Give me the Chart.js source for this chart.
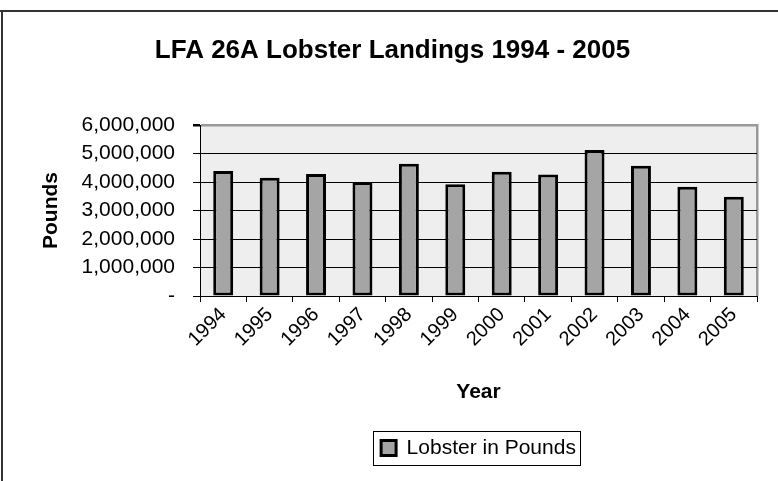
<!DOCTYPE html>
<html lang="en">
<head>
<meta charset="UTF-8">
<title>LFA 26A Lobster Landings 1994 - 2005</title>
<script src="https://cdn.jsdelivr.net/npm/chart.js"></script>
<style>
  body { margin: 0; background: #fff; }
  #containerGrafico { width: 778px; height: 481px; }
</style>
</head>
<body>
<div id="containerGrafico">
  <canvas id="myChart"></canvas>
</div>
<script>
  // landings per year, in pounds
  var years = ['1994', '1995', '1996', '1997', '1998', '1999', '2000', '2001', '2002', '2003', '2004', '2005'];
  var pounds = [4390000, 4150000, 4280000, 4000000, 4640000, 3920000, 4360000, 4260000, 5120000, 4570000, 3830000, 3480000];
  var yTicks = [0, 1000000, 2000000, 3000000, 4000000, 5000000, 6000000];

  Chart.defaults.font.family = "'Liberation Sans', Arial, sans-serif";
  Chart.defaults.color = '#000';

  // grey plot background, outer frame lines and the box round the legend
  const frame = {
    id: 'frame',
    beforeDraw(chart) {
      const c = chart.ctx, a = chart.chartArea;
      c.save();
      c.fillStyle = '#eeeeee';
      c.fillRect(a.left, a.top, a.right - a.left, a.bottom - a.top);
      c.fillStyle = '#999999';
      c.fillRect(a.right - 1, a.top - 1, 2.5, a.bottom - a.top + 1);
      c.restore();
    },
    afterDraw(chart) {
      const c = chart.ctx;
      c.save();
      c.fillStyle = '#333333';
      c.fillRect(0, 10, chart.width, 2);
      c.fillRect(1, 10, 2, chart.height - 10);
      const box = chart.legend.legendHitBoxes[0];
      if (box) {
        c.strokeStyle = '#000';
        c.lineWidth = 1;
        c.strokeRect(Math.round(box.left - 8) + 0.5, Math.round(box.top - 7) + 0.5, Math.round(box.width + 12), Math.round(box.height + 13));
      }
      c.restore();
    }
  };

  const ctx = document.getElementById('myChart');
  let grafico = new Chart(ctx, {
    type: 'bar',
    data: {
      labels: years,
      datasets: [{
        label: 'Lobster in Pounds',
        data: pounds,
        backgroundColor: '#a5a5a5',
        borderColor: '#000',
        borderWidth: 3,
        borderSkipped: false,
        barPercentage: 0.43,
        categoryPercentage: 1
      }]
    },
    options: {
      responsive: true,
      maintainAspectRatio: false,
      animation: false,
      layout: { padding: { top: 12, left: 28, right: 21, bottom: 12.5 } },
      plugins: {
        title: {
          display: true,
          text: 'LFA 26A Lobster Landings 1994 - 2005',
          color: '#000',
          font: { size: 26, weight: 'bold' },
          padding: { top: 23.4, bottom: 58.4 }
        },
        legend: {
          position: 'bottom',
          fullSize: false,
          labels: { boxWidth: 15, boxHeight: 15, padding: 10, color: '#000', font: { size: 21 } }
        },
        tooltip: { enabled: false }
      },
      scales: {
        x: {
          ticks: { minRotation: 45, maxRotation: 45, padding: 1, font: { size: 20 } },
          grid: { drawOnChartArea: false, tickLength: 6, color: '#000', offset: true },
          border: { color: '#000', width: 1 },
          title: { display: true, text: 'Year', font: { size: 21, weight: 'bold' }, padding: { top: 0, bottom: 23 } },
          afterFit: function (s) { s.height = 131.5; }
        },
        y: {
          min: 0,
          max: 6000000,
          afterBuildTicks: function (s) { s.ticks = yTicks.map(v => ({ value: v })); },
          ticks: {
            padding: 18,
            font: { size: 21 },
            callback: function (v) { return v === 0 ? '-' : v.toLocaleString('en-US'); }
          },
          grid: {
            color: function (c) { return c.tick && c.tick.value === 6000000 ? '#999999' : '#000'; },
            lineWidth: function (c) { return c.tick && c.tick.value === 6000000 ? 2.5 : 1; },
            tickColor: '#000',
            tickLength: 7
          },
          border: { color: '#000', width: 1 },
          title: { display: true, text: 'Pounds', font: { size: 21, weight: 'bold' }, padding: { top: 11, bottom: 0 } },
          afterFit: function (s) { s.width = 172; }
        }
      }
    },
    plugins: [frame]
  });
</script>
</body>
</html>
